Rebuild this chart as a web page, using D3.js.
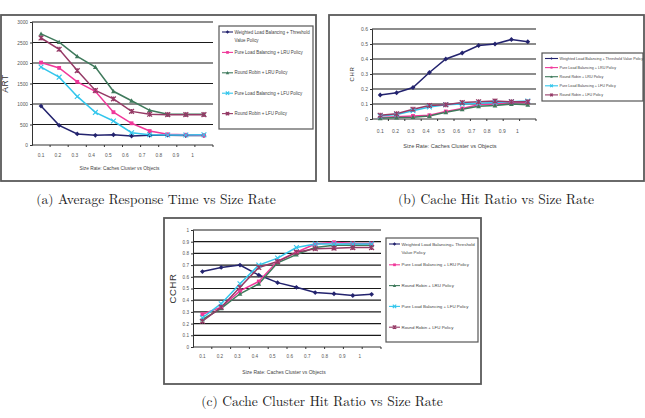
<!DOCTYPE html>
<html>
<head>
<meta charset="utf-8">
<script src="https://cdn.jsdelivr.net/npm/d3@7"></script>
<style>
  body { margin: 0; background: #fff; }
  svg { display: block; }
</style>
</head>
<body>
<div id="chart"></div>
<script>
// === DATA ===
const sizeRates = ["0.1", "0.2", "0.3", "0.4", "0.5", "0.6", "0.7", "0.8", "0.9", "1"];
const seriesNames = [
    "Weighted Load Balancing + Threshold Value Policy",
    "Pure Load Balancing + LRU Policy",
    "Round Robin + LRU Policy",
    "Pure Load Balancing + LFU Policy",
    "Round Robin + LFU Policy"
];

// (a) average response time
const artWeighted = [950, 480, 270, 235, 250, 220, 235, 240, 230, 230];
const artPureLRU  = [2010, 1880, 1540, 1310, 800, 530, 340, 260, 250, 235];
const artRRLRU    = [2710, 2510, 2160, 1900, 1310, 1080, 845, 750, 750, 750];
const artPureLFU  = [1900, 1655, 1185, 795, 585, 300, 250, 245, 245, 250];
const artRRLFU    = [2610, 2335, 1815, 1330, 1125, 820, 750, 740, 740, 740];
const artTicks = [0, 500, 1000, 1500, 2000, 2500, 3000];

// (b) cache hit ratio
const chrWeighted = [0.16, 0.175, 0.21, 0.31, 0.40, 0.44, 0.49, 0.50, 0.53, 0.515];
const chrPureLRU  = [0.01, 0.015, 0.02, 0.025, 0.05, 0.07, 0.095, 0.10, 0.11, 0.11];
const chrRRLRU    = [0.005, 0.01, 0.012, 0.02, 0.045, 0.065, 0.085, 0.09, 0.10, 0.095];
const chrPureLFU  = [0.02, 0.03, 0.055, 0.08, 0.095, 0.10, 0.105, 0.11, 0.115, 0.12];
const chrRRLFU    = [0.025, 0.035, 0.065, 0.09, 0.095, 0.11, 0.115, 0.12, 0.115, 0.115];
const chrTicks = [0, 0.1, 0.2, 0.3, 0.4, 0.5, 0.6];

// (c) cache cluster hit ratio
const cchrWeighted = [0.645, 0.68, 0.70, 0.615, 0.55, 0.51, 0.465, 0.455, 0.44, 0.45];
const cchrPureLRU  = [0.28, 0.34, 0.48, 0.56, 0.735, 0.81, 0.88, 0.895, 0.885, 0.885];
const cchrRRLRU    = [0.235, 0.33, 0.455, 0.54, 0.72, 0.79, 0.85, 0.87, 0.87, 0.87];
const cchrPureLFU  = [0.25, 0.37, 0.54, 0.70, 0.76, 0.85, 0.88, 0.88, 0.88, 0.88];
const cchrRRLFU    = [0.22, 0.34, 0.51, 0.68, 0.73, 0.81, 0.84, 0.845, 0.85, 0.85];
const cchrTicks = [0, 0.1, 0.2, 0.3, 0.4, 0.5, 0.6, 0.7, 0.8, 0.9, 1];

const colors = ["#23236e", "#f0389a", "#3f7a5c", "#33c6ec", "#953a66"];
const markers = ["diamond", "square", "triangle", "cross", "star"];

const width = 645, height = 418;
const svg = d3.select("#chart").append("svg")
    .attr("width", width)
    .attr("height", height);

const sansFont = "Liberation Sans, Arial, sans-serif";
const serifFont = "Latin Modern Roman, Liberation Serif, DejaVu Serif, serif";

function drawMarker(g, type, x, y, color, s) {
    if (type === "diamond") {
        g.append("path").attr("d", `M${x},${y - s}L${x + s},${y}L${x},${y + s}L${x - s},${y}Z`)
            .attr("fill", color);
    } else if (type === "square") {
        g.append("rect").attr("x", x - s * 0.8).attr("y", y - s * 0.8)
            .attr("width", s * 1.6).attr("height", s * 1.6).attr("fill", color);
    } else if (type === "triangle") {
        g.append("path").attr("d", `M${x},${y - s}L${x + s},${y + s * 0.8}L${x - s},${y + s * 0.8}Z`)
            .attr("fill", color);
    } else if (type === "cross") {
        g.append("path").attr("d", `M${x - s},${y - s}L${x + s},${y + s}M${x - s},${y + s}L${x + s},${y - s}`)
            .attr("stroke", color).attr("stroke-width", 1.1);
    } else {
        g.append("path").attr("d", `M${x - s},${y - s}L${x + s},${y + s}M${x - s},${y + s}L${x + s},${y - s}M${x},${y - s}L${x},${y + s}`)
            .attr("stroke", color).attr("stroke-width", 1.3);
    }
}

function drawChart(cfg) {
    const g = svg.append("g");

    // outer frame
    g.append("rect")
        .attr("x", cfg.frame[0]).attr("y", cfg.frame[1])
        .attr("width", cfg.frame[2]).attr("height", cfg.frame[3])
        .attr("fill", "none").attr("stroke", "#5a5a5a").attr("stroke-width", 1.8);

    const x = d3.scaleBand().domain(sizeRates).range([cfg.left, cfg.right]);
    const y = d3.scaleLinear().domain(cfg.domain).range([cfg.bottom, cfg.top]);

    // category labels in the original sit a bit tighter than the points
    const c0 = x(sizeRates[0]) + x.bandwidth() / 2;
    const labelX = d3.scalePoint().domain(sizeRates)
        .range([c0, c0 + 9 * x.bandwidth() * 0.93]);

    // gridlines
    g.selectAll(".grid").data(cfg.ticks.slice(1)).enter().append("line")
        .attr("x1", cfg.left).attr("x2", cfg.right)
        .attr("y1", d => y(d)).attr("y2", d => y(d))
        .attr("stroke", "#1a1a1a").attr("stroke-width", 1.2);

    // y axis
    const yAxis = g.append("g")
        .attr("transform", `translate(${cfg.left},0)`)
        .call(d3.axisLeft(y).tickValues(cfg.ticks).tickSize(2).tickPadding(2)
            .tickFormat(d3.format(cfg.fmt)));
    yAxis.select(".domain").attr("stroke", "#333");
    yAxis.selectAll("line").attr("stroke", "#333");
    yAxis.selectAll("text").attr("font-family", sansFont)
        .attr("font-size", cfg.tickSize).attr("fill", "#555");

    // x axis line and band ticks
    g.append("line").attr("x1", cfg.left).attr("x2", cfg.right)
        .attr("y1", cfg.bottom).attr("y2", cfg.bottom)
        .attr("stroke", "#333");
    g.selectAll(".xt").data(sizeRates).enter().append("line")
        .attr("x1", d => x(d) + x.bandwidth()).attr("x2", d => x(d) + x.bandwidth())
        .attr("y1", cfg.bottom).attr("y2", cfg.bottom + 2)
        .attr("stroke", "#333");
    g.selectAll(".xl").data(sizeRates).enter().append("text")
        .attr("x", d => labelX(d)).attr("y", cfg.bottom + cfg.xLabelDy)
        .attr("text-anchor", "middle")
        .attr("font-family", sansFont).attr("font-size", cfg.tickSize)
        .attr("fill", "#555")
        .text(d => d);

    // axis titles
    g.append("text")
        .attr("x", (cfg.left + cfg.right) / 2 + cfg.xTitleDx).attr("y", cfg.xTitleY)
        .attr("text-anchor", "middle")
        .attr("font-family", sansFont).attr("font-size", cfg.xTitleSize)
        .attr("fill", "#444")
        .text("Size Rate: Caches Cluster vs Objects");
    g.append("text")
        .attr("transform", `translate(${cfg.yTitleX},${(cfg.top + cfg.bottom) / 2}) rotate(-90)`)
        .attr("text-anchor", "middle")
        .attr("font-family", sansFont).attr("font-size", cfg.yTitleSize)
        .attr("fill", "#333").attr("letter-spacing", 0.6)
        .text(cfg.yTitle);

    // series
    const line = d3.line()
        .x((d, i) => x(sizeRates[i]) + x.bandwidth() / 2)
        .y(d => y(d));
    cfg.series.forEach((vals, k) => {
        g.append("path").datum(vals)
            .attr("d", line)
            .attr("fill", "none").attr("stroke", colors[k]).attr("stroke-width", 1.5);
    });
    cfg.series.forEach((vals, k) => {
        vals.forEach((v, i) => {
            drawMarker(g, markers[k], x(sizeRates[i]) + x.bandwidth() / 2, y(v), colors[k], cfg.markSize);
        });
    });

    // legend
    const lg = cfg.legend;
    g.append("rect")
        .attr("x", lg.box[0]).attr("y", lg.box[1])
        .attr("width", lg.box[2]).attr("height", lg.box[3])
        .attr("fill", "#fff").attr("stroke", "#555").attr("stroke-width", 1.2);
    seriesNames.forEach((name, k) => {
        const yy = lg.y0 + k * lg.step;
        const lx = lg.box[0] + 3;
        g.append("line").attr("x1", lx).attr("x2", lx + lg.lineLen)
            .attr("y1", yy).attr("y2", yy)
            .attr("stroke", colors[k]).attr("stroke-width", 1.1);
        drawMarker(g, markers[k], lx + lg.lineLen / 2, yy, colors[k], lg.markSize);
        const lines = (k === 0 && lg.wrap) ? lg.wrap : [name];
        lines.forEach((t, j) => {
            g.append("text")
                .attr("x", lx + lg.lineLen + 1.5).attr("y", yy + j * lg.lineH)
                .attr("dy", "0.35em")
                .attr("font-family", sansFont).attr("font-size", lg.fontSize)
                .attr("fill", "#444")
                .text(t);
        });
    });

    // caption
    svg.append("text")
        .attr("x", cfg.caption[1]).attr("y", cfg.caption[2])
        .attr("text-anchor", "middle")
        .attr("font-family", serifFont).attr("font-size", 13.5)
        .attr("fill", "#222")
        .text(cfg.caption[0]);
}

drawChart({
    frame: [1, 15, 315, 166],
    left: 32, right: 213, top: 22, bottom: 145,
    domain: [0, 3000], ticks: artTicks, fmt: "d",
    tickSize: 4.8, xLabelDy: 11.5, markSize: 2.4,
    xTitleY: 170, xTitleSize: 4.8, xTitleDx: -3,
    yTitle: "ART", yTitleX: 8, yTitleSize: 8.5,
    series: [artWeighted, artPureLRU, artRRLRU, artPureLFU, artRRLFU],
    legend: {
        box: [219, 26, 94, 103], y0: 32, step: 20.4,
        wrap: ["Weighted Load Balancing + Threshold", "Value Policy"], lineH: 8.7,
        lineLen: 11, fontSize: 4.45, markSize: 1.7
    },
    caption: ["(a) Average Response Time vs Size Rate", 156, 204]
});

drawChart({
    frame: [329, 15, 315, 166],
    left: 372, right: 536, top: 29, bottom: 119,
    domain: [0, 0.6], ticks: chrTicks, fmt: "",
    tickSize: 5, xLabelDy: 13.5, markSize: 2.4,
    xTitleY: 148, xTitleSize: 5.6, xTitleDx: -4,
    yTitle: "CHR", yTitleX: 354, yTitleSize: 6,
    series: [chrWeighted, chrPureLRU, chrRRLRU, chrPureLFU, chrRRLFU],
    legend: {
        box: [542, 53, 101, 48], y0: 58.5, step: 9.1,
        wrap: null, lineH: 0,
        lineLen: 13, fontSize: 3.7, markSize: 1.3
    },
    caption: ["(b) Cache Hit Ratio vs Size Rate", 496, 204]
});

drawChart({
    frame: [164, 218, 317, 166],
    left: 193, right: 381, top: 230, bottom: 347,
    domain: [0, 1], ticks: cchrTicks, fmt: "",
    tickSize: 4.6, xLabelDy: 11, markSize: 2.4,
    xTitleY: 374, xTitleSize: 5, xTitleDx: -3,
    yTitle: "CCHR", yTitleX: 176, yTitleSize: 9.5,
    series: [cchrWeighted, cchrPureLRU, cchrRRLRU, cchrPureLFU, cchrRRLFU],
    legend: {
        box: [386, 238, 92, 104], y0: 244, step: 20.8,
        wrap: ["Weighted Load Balancing+ Threshold", "Value Policy"], lineH: 8.7,
        lineLen: 11, fontSize: 4.4, markSize: 1.7
    },
    caption: ["(c) Cache Cluster Hit Ratio vs Size Rate", 322, 406]
});
</script>
</body>
</html>
